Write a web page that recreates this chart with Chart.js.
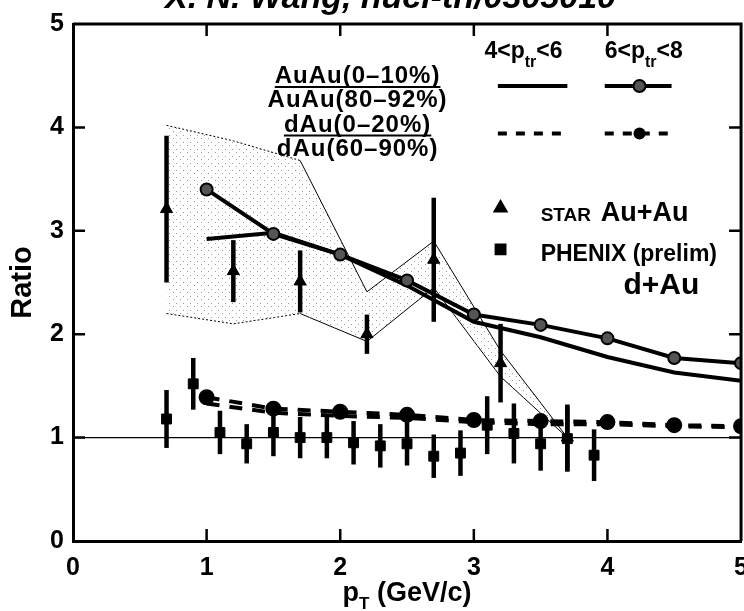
<!DOCTYPE html>
<html>
<head>
<meta charset="utf-8">
<script src="https://cdn.jsdelivr.net/npm/chart.js@4.4.1/dist/chart.umd.min.js"></script>
<style>
  html, body { margin: 0; padding: 0; background: #fff; overflow: hidden; }
  canvas { display: block; }
</style>
</head>
<body>
<canvas id="chart" width="760" height="611"></canvas>
<script>
// STAR Au+Au points (stat. errors)
const starPt = [0.7, 1.2, 1.7, 2.2, 2.7, 3.2, 3.7];
const starRatio = [3.21, 2.61, 2.51, 2.00, 2.72, 1.72, 1.00];
const starErr = [0.71, 0.30, 0.30, 0.19, 0.60, 0.38, 0.32];

// STAR systematic band
const bandUpper = [4.02, 3.87, 3.68, 2.41, 2.90, 1.84, 1.00];
const bandLower = [2.20, 2.10, 2.20, 1.93, 2.45, 1.59, 1.00];

// PHENIX d+Au (prelim)
const phenixPt = [0.7, 0.9, 1.1, 1.3, 1.5, 1.7, 1.9, 2.1, 2.3, 2.5, 2.7, 2.9, 3.1, 3.3, 3.5, 3.7, 3.9];
const phenixRatio = [1.18, 1.52, 1.05, 0.94, 1.05, 1.00, 1.00, 0.95, 0.92, 0.94, 0.82, 0.85, 1.12, 1.04, 0.94, 0.99, 0.83];
const phenixErr = [0.28, 0.25, 0.21, 0.19, 0.23, 0.20, 0.20, 0.21, 0.21, 0.21, 0.21, 0.22, 0.28, 0.29, 0.26, 0.32, 0.25];

// theory curves
const curvePt = [1.0, 1.5, 2.0, 2.5, 3.0, 3.5, 4.0, 4.5, 5.0];
const auau46 = [2.92, 2.98, 2.77, 2.47, 2.12, 1.97, 1.78, 1.63, 1.55];
const auau68 = [3.40, 2.97, 2.77, 2.52, 2.19, 2.09, 1.96, 1.77, 1.72];
const dau46 = [1.33, 1.24, 1.21, 1.19, 1.15, 1.13, 1.13, 1.11, 1.10];
const dau68 = [1.39, 1.28, 1.25, 1.22, 1.17, 1.16, 1.15, 1.12, 1.11];

const unityPt = [0, 5];
const unityRatio = [1, 1];

const FONT = '"Liberation Sans", Arial, Helvetica, sans-serif';

function toXY(xs, ys) {
  return xs.map((x, i) => ({ x, y: ys[i] }));
}

const canvasEl = document.getElementById('chart');
const ctx = canvasEl.getContext('2d');

// sparse dots, like the stippled band in the scan
const tile = document.createElement('canvas');
tile.width = 7; tile.height = 7;
const tg = tile.getContext('2d');
tg.fillStyle = '#9a9a9a';
tg.fillRect(1, 2, 1, 1);
tg.fillRect(5, 5, 1, 1);
const stipple = ctx.createPattern(tile, 'repeat');

const errorBars = {
  id: 'errorBars',
  beforeDatasetDraw(chart, args) {
    const ds = chart.data.datasets[args.index];
    if (!ds.errors) return;
    const { ctx, scales: { x, y } } = chart;
    ctx.save();
    ctx.strokeStyle = '#000';
    ctx.lineWidth = 4.5;
    ds.data.forEach((p, i) => {
      const px = x.getPixelForValue(p.x);
      ctx.beginPath();
      ctx.moveTo(px, y.getPixelForValue(p.y - ds.errors[i]));
      ctx.lineTo(px, y.getPixelForValue(p.y + ds.errors[i]));
      ctx.stroke();
    });
    ctx.restore();
  }
};

// text pieces: [text, size, dy]
function drawParts(c, parts, x, y, align, spacing) {
  c.letterSpacing = spacing || '0px';
  let w = 0;
  parts.forEach(p => { c.font = 'bold ' + p[1] + 'px ' + FONT; w += c.measureText(p[0]).width; });
  let cx = align === 'center' ? x - w / 2 : x;
  c.textAlign = 'left';
  c.textBaseline = 'alphabetic';
  parts.forEach(p => {
    c.font = 'bold ' + p[1] + 'px ' + FONT;
    c.fillText(p[0], cx, y + (p[2] || 0));
    cx += c.measureText(p[0]).width;
  });
  c.letterSpacing = '0px';
  return w;
}

const annotations = {
  id: 'annotations',
  afterDraw(chart) {
    const { ctx, chartArea: a, scales: { x, y } } = chart;
    const X = v => x.getPixelForValue(v);
    const Y = v => y.getPixelForValue(v);
    ctx.save();
    ctx.fillStyle = '#000';
    ctx.strokeStyle = '#000';

    // top / right frame and inward ticks
    ctx.lineWidth = 3;
    ctx.beginPath();
    ctx.moveTo(a.left, a.top);
    ctx.lineTo(a.right, a.top);
    ctx.lineTo(a.right, a.bottom);
    ctx.stroke();
    ctx.lineWidth = 2.5;
    for (let v = 1; v <= 4; v++) {
      ctx.beginPath();
      ctx.moveTo(X(v), a.bottom); ctx.lineTo(X(v), a.bottom - 12);
      ctx.moveTo(X(v), a.top); ctx.lineTo(X(v), a.top + 12);
      ctx.moveTo(a.left, Y(v)); ctx.lineTo(a.left + 12, Y(v));
      ctx.moveTo(a.right, Y(v)); ctx.lineTo(a.right - 12, Y(v));
      ctx.stroke();
    }

    // clipped header text at the very top of the scan
    ctx.font = 'italic bold 34px ' + FONT;
    ctx.textAlign = 'left';
    ctx.textBaseline = 'alphabetic';
    ctx.fillText('X. N. Wang, nucl-th/0305010', 165, 8);

    // x axis title with subscript
    drawParts(ctx, [['p', 27], ['T', 17, 8], [' (GeV/c)', 27]], (a.left + a.right) / 2, 601, 'center');

    // column headers
    drawParts(ctx, [['4<p', 23], ['tr', 16, 9], ['<6', 23]], X(3.08), Y(4.67), 'left');
    drawParts(ctx, [['6<p', 23], ['tr', 16, 9], ['<8', 23]], X(3.98), Y(4.67), 'left');

    // legend sample lines
    ctx.lineWidth = 4;
    ctx.beginPath();
    ctx.moveTo(X(3.18), Y(4.40)); ctx.lineTo(X(3.70), Y(4.40));
    ctx.moveTo(X(3.98), Y(4.40)); ctx.lineTo(X(4.48), Y(4.40));
    ctx.stroke();
    ctx.setLineDash([9, 9]);
    ctx.beginPath();
    ctx.moveTo(X(3.18), Y(3.94)); ctx.lineTo(X(3.70), Y(3.94));
    ctx.moveTo(X(3.98), Y(3.94)); ctx.lineTo(X(4.48), Y(3.94));
    ctx.stroke();
    ctx.setLineDash([]);
    ctx.lineWidth = 2;
    ctx.fillStyle = '#555';
    ctx.beginPath(); ctx.arc(X(4.24), Y(4.40), 6, 0, Math.PI * 2); ctx.fill(); ctx.stroke();
    ctx.fillStyle = '#000';
    ctx.beginPath(); ctx.arc(X(4.24), Y(3.94), 6, 0, Math.PI * 2); ctx.fill();

    // ratio labels
    const cx = X(2.13);
    const w1 = drawParts(ctx, [['AuAu(0\u201310%)', 24]], cx, Y(4.43), 'center', '1px');
    drawParts(ctx, [['AuAu(80\u201392%)', 24]], cx, Y(4.20), 'center', '1px');
    const w3 = drawParts(ctx, [['dAu(0\u201320%)', 24]], cx, Y(3.96), 'center', '1px');
    drawParts(ctx, [['dAu(60\u201390%)', 24]], cx, Y(3.72), 'center', '1px');
    ctx.lineWidth = 2;
    ctx.beginPath();
    ctx.moveTo(cx - w1 / 2, Y(4.43) + 4); ctx.lineTo(cx + w1 / 2, Y(4.43) + 4);
    ctx.moveTo(cx - w3 / 2, Y(3.96) + 4); ctx.lineTo(cx + w3 / 2, Y(3.96) + 4);
    ctx.stroke();

    // data legend
    Chart.helpers.drawPoint(ctx, { pointStyle: 'triangle', radius: 7, borderWidth: 1 }, X(3.20), Y(3.22));
    Chart.helpers.drawPoint(ctx, { pointStyle: 'rect', radius: 7, borderWidth: 1 }, X(3.20), Y(2.82));
    drawParts(ctx, [['STAR', 19]], X(3.50), Y(3.09), 'left');
    drawParts(ctx, [['Au+Au', 27]], X(3.95), Y(3.09), 'left');
    drawParts(ctx, [['PHENIX (prelim)', 23]], X(3.50), Y(2.71), 'left');
    drawParts(ctx, [['d+Au', 30]], X(4.12), Y(2.39), 'left');

    ctx.restore();
  }
};

new Chart(ctx, {
  type: 'line',
  data: {
    datasets: [
      {
        label: 'STAR Au+Au',
        data: toXY(starPt, starRatio),
        errors: starErr,
        showLine: false,
        pointStyle: 'triangle',
        pointRadius: 7,
        backgroundColor: '#000',
        borderColor: '#000',
        order: 0
      },
      {
        label: 'PHENIX d+Au',
        data: toXY(phenixPt, phenixRatio),
        errors: phenixErr,
        showLine: false,
        pointStyle: 'rect',
        pointRadius: 7,
        backgroundColor: '#000',
        borderColor: '#000',
        order: 0
      },
      {
        label: 'AuAu 6<ptr<8',
        data: toXY(curvePt, auau68),
        borderColor: '#000',
        borderWidth: 4,
        pointRadius: 6,
        pointBackgroundColor: '#555',
        pointBorderColor: '#000',
        pointBorderWidth: 2,
        order: 1
      },
      {
        label: 'AuAu 4<ptr<6',
        data: toXY(curvePt, auau46),
        borderColor: '#000',
        borderWidth: 4,
        pointRadius: 0,
        order: 1
      },
      {
        label: 'dAu 6<ptr<8',
        data: toXY(curvePt, dau68),
        borderColor: '#000',
        borderWidth: 4,
        borderDash: [13, 10],
        pointRadius: 6,
        pointBackgroundColor: '#000',
        pointBorderColor: '#000',
        order: 1
      },
      {
        label: 'dAu 4<ptr<6',
        data: toXY(curvePt, dau46),
        borderColor: '#000',
        borderWidth: 4,
        borderDash: [13, 10],
        pointRadius: 0,
        order: 1
      },
      {
        label: 'unity',
        data: toXY(unityPt, unityRatio),
        borderColor: '#000',
        borderWidth: 1.2,
        pointRadius: 0,
        order: 2
      },
      {
        label: 'band upper',
        data: toXY(starPt, bandUpper),
        borderColor: '#000',
        borderWidth: 1,
        backgroundColor: stipple,
        fill: '+1',
        pointRadius: 0,
        segment: { borderDash: c => (c.p0.parsed.x < 1.65 ? [2, 2] : undefined) },
        order: 3
      },
      {
        label: 'band lower',
        data: toXY(starPt, bandLower),
        borderColor: '#000',
        borderWidth: 1,
        fill: false,
        pointRadius: 0,
        segment: { borderDash: c => (c.p0.parsed.x < 1.65 ? [2, 2] : undefined) },
        order: 3
      }
    ]
  },
  options: {
    responsive: false,
    animation: false,
    layout: { padding: { top: 19, right: 12, left: 0, bottom: 0 } },
    scales: {
      x: {
        type: 'linear',
        min: 0,
        max: 5,
        afterFit: s => { s.height = 70; },
        ticks: { stepSize: 1, padding: 12, color: '#000', font: { family: FONT, size: 25, weight: 'bold' } },
        grid: { display: false, drawTicks: false },
        border: { display: true, color: '#000', width: 3 }
      },
      y: {
        min: 0,
        max: 5,
        afterFit: s => { s.width = 73; },
        ticks: { stepSize: 1, padding: 9, color: '#000', font: { family: FONT, size: 25, weight: 'bold' } },
        grid: { display: false, drawTicks: false },
        border: { display: true, color: '#000', width: 3 },
        title: { display: true, text: 'Ratio', color: '#000', padding: { top: 6, bottom: 0 }, font: { family: FONT, size: 29, weight: 'bold' } }
      }
    },
    plugins: {
      legend: { display: false },
      tooltip: { enabled: false }
    }
  },
  plugins: [errorBars, annotations]
});
</script>
</body>
</html>
